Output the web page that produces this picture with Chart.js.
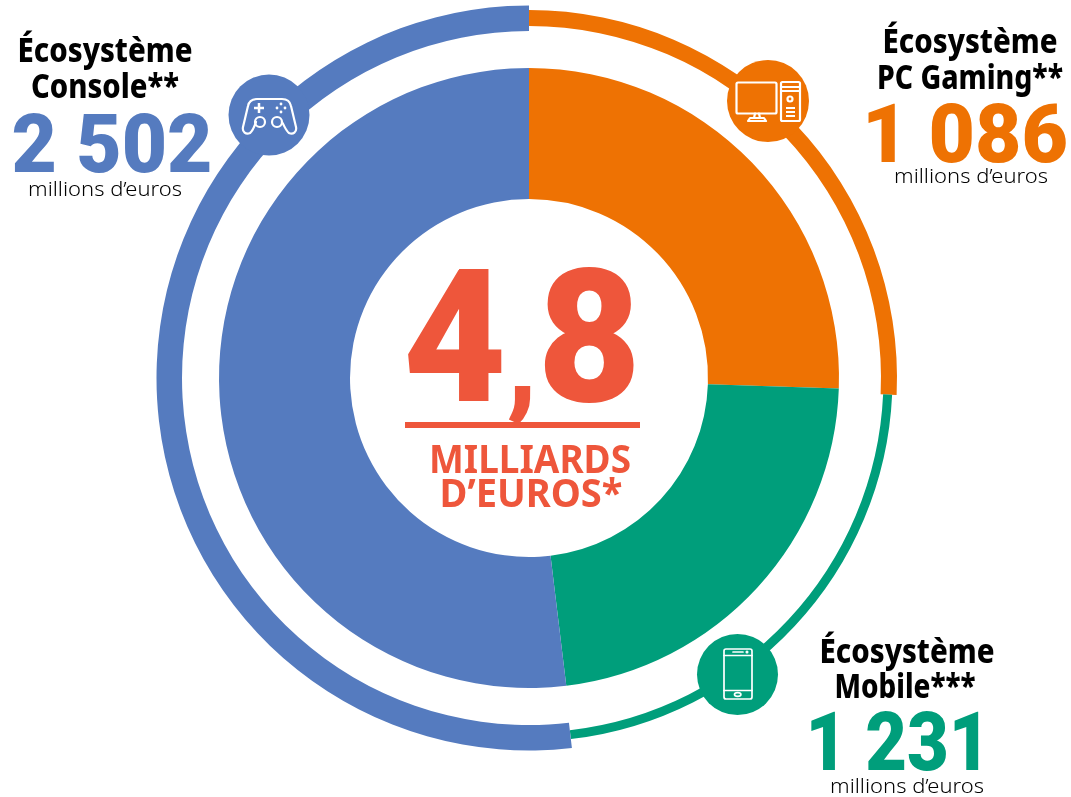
<!DOCTYPE html>
<html lang="fr">
<head>
<meta charset="utf-8">
<title>Écosystèmes</title>
<script src="https://cdn.jsdelivr.net/npm/chart.js@4/dist/chart.umd.min.js"></script>
<style>
    html, body { margin: 0; padding: 0; background: #fff; overflow: hidden; }
    #stage { position: relative; width: 1071px; height: 797px; }
    #chart { position: absolute; left: 154px; top: 3px; }
    #overlay { position: absolute; left: 0; top: 0; }
    #overlay text { font-family: "Noto Sans", sans-serif; text-anchor: middle; }
    #overlay text.big { font-family: Roboto, sans-serif; }
</style>
</head>
<body>
<div id="stage">
    <canvas id="chart" width="750" height="750"></canvas>
    <svg id="overlay" width="1071" height="797" viewBox="0 0 1071 797">
        <g id="icons" fill="none" stroke="#fff" stroke-width="2.2" stroke-linejoin="round" stroke-linecap="round">
            <!-- console -->
            <circle cx="269" cy="115" r="40.5" fill="#557bbf" stroke="none"/>
            <path d="M256 122 C254 127 253 131 250 133 C246 135 242 132 243 127 L248 106 C249 101 252 99 257 99 H282 C287 99 290 101 291 106 L296 127 C297 132 293 135 289 133 C286 131 285 127 282 122"/>
            <circle cx="260" cy="122" r="5"/>
            <circle cx="277" cy="122" r="5"/>
            <path d="M254 108 H264 M259 103 V113" stroke-width="2.5" stroke-linecap="butt"/>
            <g fill="#fff" stroke="none">
                <circle cx="281" cy="104" r="1.4"/><circle cx="281" cy="112" r="1.4"/>
                <circle cx="277" cy="108" r="1.4"/><circle cx="285" cy="108" r="1.4"/>
            </g>
            <!-- pc -->
            <circle cx="768" cy="101" r="41" fill="#ee7203" stroke="none"/>
            <rect x="736.5" y="82.5" width="40" height="31" rx="1.5"/>
            <path d="M755 113.5 L754 118 H760 L759 113.5 M748 121 L750 118 H764 L766 121 Z"/>
            <rect x="781" y="82" width="19" height="39" rx="1.5"/>
            <path d="M781 87 H800 M781 91 H800"/>
            <circle cx="790" cy="99" r="2.5"/>
            <path d="M786 108 H795 M786 112 H795 M786 116 H795" stroke-linecap="butt"/>
            <!-- mobile -->
            <circle cx="737.5" cy="674.5" r="40.5" fill="#009e7b" stroke="none"/>
            <g stroke-width="1.7">
                <rect x="724" y="649" width="28" height="50" rx="2"/>
                <path d="M724 655.5 H752 M724 690.5 H752 M733 652 H743"/>
                <circle cx="747" cy="652" r="0.7"/>
                <ellipse cx="737.7" cy="694.5" rx="3.2" ry="1.8"/>
            </g>
        </g>
        <g id="labels"></g>
        <rect x="405" y="422" width="235" height="6" fill="#ee563b"/>
    </svg>
</div>
<script>
    // Slices in picture order, clockwise from the top
    var sliceNames = ['PC Gaming', 'Mobile', 'Console'];
    var sliceValues = [1231, 1086, 2502];
    var ringValues = [1240, 1081, 2498];
    var sliceColors = ['#ee7203', '#009e7b', '#557bbf'];

    var totalLabel = ['4', ',', '8'];
    var totalUnit = ['MILLIARDS', 'D\u2019EUROS*'];
    var amountLabels = ['1 086', '1 231', '2 502'];
    var unitLabel = 'millions d\u2019euros';
    var titleLines = [
        ['Écosystème', 'PC Gaming**'],
        ['Écosystème', 'Mobile***'],
        ['Écosystème', 'Console**']
    ];

    // Radii of the arcs, in pixels, per dataset
    var pieRadii = [[179, 310], [179, 310], [179, 310]];
    var ringRadii = [[352, 368], [354.5, 363.5], [347, 372.5]];

    // Chart.js has no per slice thickness, so we set the radii after each update
    var radiiPlugin = {
        id: 'radii',
        afterDatasetUpdate: function (chart, args) {
            var radii = args.index === 0 ? pieRadii : ringRadii;
            args.meta.data.forEach(function (arc, i) {
                arc.innerRadius = radii[i][0];
                arc.outerRadius = radii[i][1];
            });
        }
    };

    new Chart(document.getElementById('chart'), {
        type: 'doughnut',
        data: {
            labels: sliceNames,
            datasets: [
                { data: sliceValues, backgroundColor: sliceColors, borderWidth: 0 },
                { data: ringValues, backgroundColor: sliceColors, borderWidth: 0 }
            ]
        },
        options: {
            responsive: false,
            animation: false,
            plugins: { legend: { display: false }, tooltip: { enabled: false } }
        },
        plugins: [radiiPlugin]
    });

    // Puts one text into the overlay, stretched to the width measured in the picture
    function putText(str, x, y, size, weight, color, width, big) {
        var t = document.createElementNS('http://www.w3.org/2000/svg', 'text');
        t.textContent = str;
        t.setAttribute('x', x);
        t.setAttribute('y', y);
        t.setAttribute('font-size', size);
        t.setAttribute('font-weight', weight);
        t.setAttribute('fill', color);
        if (big) t.setAttribute('class', 'big');
        if (width) {
            t.setAttribute('textLength', width);
            t.setAttribute('lengthAdjust', 'spacingAndGlyphs');
        }
        document.getElementById('labels').appendChild(t);
        return t;
    }

    var black = '#000';
    var red = '#ee563b';

    putText(titleLines[0][0], 970, 53, 33, 800, black, 175);
    putText(titleLines[0][1], 970, 89, 33, 800, black, 186);
    putText(amountLabels[0], 965, 162, 81, 900, sliceColors[0], 206, true);
    putText(unitLabel, 971, 183, 20, 300, black, 154);

    putText(titleLines[1][0], 907, 663, 33, 800, black, 175);
    putText(titleLines[1][1], 905, 698, 33, 800, black, 141);
    putText(amountLabels[1], 898, 770, 81, 900, sliceColors[1], 185, true);
    putText(unitLabel, 907, 793, 20, 300, black, 154);

    putText(titleLines[2][0], 105, 62, 33, 800, black, 175);
    putText(titleLines[2][1], 105, 98, 33, 800, black, 148);
    putText(amountLabels[2], 112, 172, 81, 900, sliceColors[2], 201, true);
    putText(unitLabel, 105, 196, 20, 300, black, 154);

    // The comma is much smaller than the digits in the original
    var total = putText('', 522, 401, 186, 900, red, 238, true);
    totalLabel.forEach(function (part) {
        var span = document.createElementNS('http://www.w3.org/2000/svg', 'tspan');
        span.textContent = part;
        if (part === ',') span.setAttribute('font-size', 120);
        total.appendChild(span);
    });

    putText(totalUnit[0], 530, 473, 40, 700, red, 202);
    putText(totalUnit[1], 531, 507, 40, 700, red, 183);
</script>
</body>
</html>
